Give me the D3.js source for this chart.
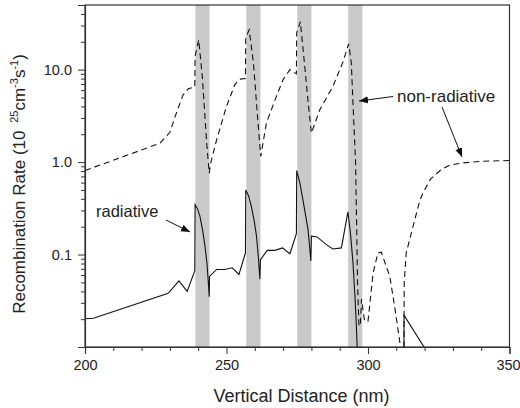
<!DOCTYPE html>
<html lang="en">
<head>
    <meta charset="UTF-8">
    <title>Recombination Rate</title>
    <script src="https://d3js.org/d3.v7.min.js"></script>
    <style>
        body { margin: 0; background: #fff; }
        text { font-family: "Liberation Sans", Arial, Helvetica, sans-serif; fill: #222; }
    </style>
</head>
<body>
    <svg id="chart" width="520" height="408"></svg>
    <script>
        // quantum well positions (nm)
        const wellStart = [239, 257, 275, 293];
        const wellEnd = [244, 262, 280, 298];

        // non-radiative (dashed)
        const nonRadX = [200, 215, 226.5, 230, 232, 234.6, 236.5, 238.8, 238.9, 240.2, 241.5, 243, 243.9,
            244.5, 246.5, 250, 252.9, 254.7, 256.7, 256.8, 258, 259.5, 261, 262.1,
            264.1, 267.6, 270, 272.4, 274.7, 274.8, 276.1, 277.5, 279, 280,
            283, 287.6, 291.2, 292.9, 293.2, 294.1, 294.7, 295.6, 296, 296.3, 296.8, 297.3,
            297.7, 298.8, 300, 301.8, 303.5, 304.7, 307.7, 309.4, 311.2, 312, 312.7,
            312.8, 313.5, 315.3, 318.2, 319.4, 322, 325.9, 329, 333.5, 340, 350];
        const nonRadY = [0.81, 1.19, 1.6, 2.1, 3.2, 5.3, 6.2, 6.5, 14, 21, 8, 1.6, 0.76,
            1.0, 1.74, 4.0, 6.85, 7.9, 8.0, 22, 27, 12, 3, 1.15,
            2.65, 5.1, 7.8, 10, 9, 25, 33, 12, 4, 2.06,
            3.7, 6.6, 12.2, 18, 19, 11.8, 4.3, 1.0, 0.2, 0.05, 0.017, 0.017,
            0.033, 0.019, 0.019, 0.063, 0.104, 0.106, 0.058, 0.0276, 0.0115, 0.008, 0.008,
            0.05, 0.104, 0.17, 0.375, 0.46, 0.65, 0.83, 0.93, 0.98, 1.02, 1.04];

        // radiative (solid)
        const radX = [200, 203, 229.4, 233.2, 236.1, 238.8, 238.9, 239.8, 240.6, 241.6, 242.4, 243.1, 243.5, 243.9,
            244, 246.5, 249.4, 252, 254.4, 256.7, 256.8, 257.8, 258.8, 259.8, 260.6, 261.3, 261.8,
            262, 264.4, 267.1, 269.8, 272.4, 274.7, 274.8, 276, 277, 278, 278.8, 279.4, 279.8,
            280, 282, 285.3, 287.6, 290.6, 292.9, 293.8, 294.7, 295.4, 295.9, 296.3,
            312.7, 312.75, 319.8, 321];
        const radY = [0.0202, 0.0205, 0.038, 0.052, 0.040, 0.067, 0.347, 0.31, 0.26, 0.18, 0.123, 0.08, 0.054, 0.035,
            0.058, 0.069, 0.069, 0.072, 0.061, 0.104, 0.50, 0.43, 0.33, 0.23, 0.158, 0.09, 0.054,
            0.088, 0.111, 0.111, 0.118, 0.102, 0.168, 0.81, 0.58, 0.39, 0.26, 0.186, 0.12, 0.085,
            0.158, 0.155, 0.128, 0.115, 0.118, 0.29, 0.17, 0.081, 0.035, 0.0168, 0.008,
            0.008, 0.022, 0.01, 0.008];

        const xTicks = [200, 250, 300, 350];
        const yTicks = [0.1, 1, 10];
        const yTickLabels = ["0.1", "1.0", "10.0"];

        const svg = d3.select("#chart");
        const margin = {top: 5, right: 10.5, bottom: 61, left: 85};
        const width = +svg.attr("width") - margin.left - margin.right;
        const height = +svg.attr("height") - margin.top - margin.bottom;
        const g = svg.append("g").attr("transform", `translate(${margin.left},${margin.top})`);

        const x = d3.scaleLinear().domain([200, 350]).range([0, width]);
        const y = d3.scaleLog().domain([0.01, 50]).range([height, 0]);

        const defs = svg.append("defs");
        defs.append("clipPath").attr("id", "plotClip")
            .append("rect").attr("width", width).attr("height", height);
        defs.append("marker")
            .attr("id", "arrow")
            .attr("viewBox", "0 0 10 10")
            .attr("refX", 10).attr("refY", 5)
            .attr("markerWidth", 9).attr("markerHeight", 9)
            .attr("markerUnits", "userSpaceOnUse")
            .attr("orient", "auto")
            .append("path").attr("d", "M0,1 L10,5 L0,9 z").attr("fill", "#111");

        // wells
        g.selectAll(".well")
            .data(wellStart)
            .enter().append("rect")
                .attr("x", d => x(d))
                .attr("y", 0)
                .attr("width", (d, i) => x(wellEnd[i]) - x(d))
                .attr("height", height)
                .attr("fill", "#c9c9c9");

        const line = d3.line()
            .x(d => x(d[0]))
            .y(d => y(d[1]));

        const curves = g.append("g").attr("clip-path", "url(#plotClip)");
        curves.append("path")
            .datum(nonRadX.map((v, i) => [v, nonRadY[i]]))
            .attr("d", line)
            .attr("fill", "none")
            .attr("stroke", "#111")
            .attr("stroke-width", 1.1)
            .attr("stroke-dasharray", "6,4");

        curves.append("path")
            .datum(radX.map((v, i) => [v, radY[i]]))
            .attr("d", line)
            .attr("fill", "none")
            .attr("stroke", "#111")
            .attr("stroke-width", 1.1);

        // frame
        g.append("rect")
            .attr("width", width).attr("height", height)
            .attr("fill", "none").attr("stroke", "#333").attr("stroke-width", 1.2);

        // x axis
        g.append("g")
            .attr("transform", `translate(0,${height})`)
            .call(d3.axisBottom(x).tickValues(xTicks).tickFormat(d3.format("d")).tickSize(7).tickPadding(6));
        g.append("g")
            .attr("transform", `translate(0,${height})`)
            .call(d3.axisBottom(x).tickValues(d3.range(210, 350, 10).filter(v => v % 50 !== 0)).tickSize(4).tickFormat(""))
            .select(".domain").remove();

        // y axis
        const yMinor = [];
        [0.01, 0.1, 1, 10].forEach(dec => {
            for (let k = 2; k <= 9; k++) {
                if (dec * k <= 50) yMinor.push(dec * k);
            }
        });
        g.append("g")
            .call(d3.axisLeft(y).tickValues(yTicks).tickFormat((d, i) => yTickLabels[i]).tickSize(7).tickPadding(6));
        g.append("g")
            .call(d3.axisLeft(y).tickValues(yMinor).tickSize(4).tickFormat(""))
            .select(".domain").remove();

        g.selectAll(".tick line").attr("stroke", "#333");
        g.selectAll(".domain").attr("stroke", "#333").attr("stroke-width", 1.2);
        g.selectAll(".tick text")
            .style("font-family", "'Liberation Sans', Arial, sans-serif")
            .style("font-size", "14.5px")
            .attr("fill", "#222");
        // keep the last x label inside the window
        g.selectAll(".tick text").filter(d => d === 350).attr("dx", -1.5);

        // axis titles
        svg.append("text")
            .attr("x", margin.left + x(250) + 75)
            .attr("y", 402)
            .attr("text-anchor", "middle")
            .style("font-size", "18px")
            .text("Vertical Distance (nm)");

        const yl = svg.append("text")
            .attr("transform", "translate(25,184) rotate(-90)")
            .attr("text-anchor", "middle")
            .style("font-size", "17px");
        yl.append("tspan").text("Recombination Rate (10 ");
        yl.append("tspan").attr("dx", 3).attr("dy", -7).style("font-size", "11px").text("25");
        yl.append("tspan").attr("dy", 7).text("cm");
        yl.append("tspan").attr("dy", -7).style("font-size", "11px").text("-3");
        yl.append("tspan").attr("dy", 7).text("s");
        yl.append("tspan").attr("dy", -7).style("font-size", "11px").text("-1");
        yl.append("tspan").attr("dy", 7).text(")");

        // annotations
        svg.append("text")
            .attr("x", 96).attr("y", 217)
            .style("font-size", "16.5px")
            .text("radiative");
        svg.append("line")
            .attr("x1", 166).attr("y1", 220).attr("x2", 190).attr("y2", 232)
            .attr("stroke", "#111").attr("stroke-width", 1)
            .attr("marker-end", "url(#arrow)");

        svg.append("text")
            .attr("x", 397).attr("y", 102)
            .style("font-size", "17px")
            .text("non-radiative");
        svg.append("line")
            .attr("x1", 393).attr("y1", 96.5).attr("x2", 359).attr("y2", 101)
            .attr("stroke", "#111").attr("stroke-width", 1)
            .attr("marker-end", "url(#arrow)");
        svg.append("line")
            .attr("x1", 442).attr("y1", 107).attr("x2", 462).attr("y2", 157)
            .attr("stroke", "#111").attr("stroke-width", 1)
            .attr("marker-end", "url(#arrow)");
    </script>
</body>
</html>
